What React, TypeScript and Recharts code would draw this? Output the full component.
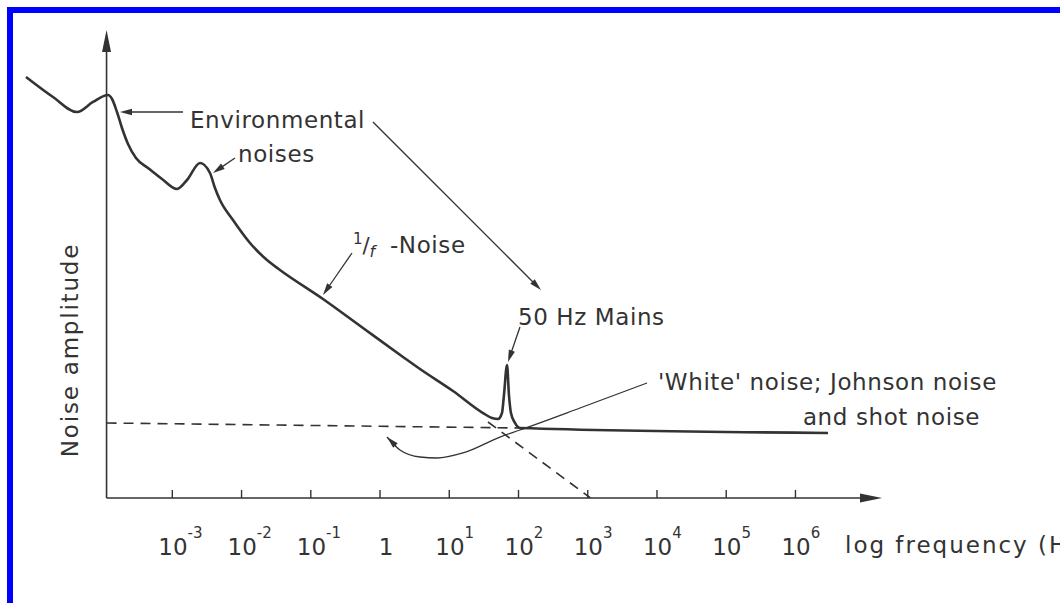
import { LineChart, Line, XAxis, YAxis, ReferenceLine, ReferenceDot } from "recharts";

const ink = "#333";
const font = "'DejaVu Sans', sans-serif";

// x = log10(frequency in Hz), y = noise amplitude (arbitrary units, 0..100)
const xDomain = [-5.2, 7.25];
const yDomain = [0, 100];
const yAxisAt = -3.95;
const decades = [-3, -2, -1, 0, 1, 2, 3, 4, 5, 6];

const noiseCurve = [
  { x: -5.113, y: 89.96 },
  { x: -4.723, y: 85.68 },
  { x: -4.377, y: 82.48 },
  { x: -4.146, y: 84.62 },
  { x: -3.929, y: 86.11 },
  { x: -3.871, y: 85.26 },
  { x: -3.799, y: 82.48 },
  { x: -3.727, y: 79.06 },
  { x: -3.64, y: 75.64 },
  { x: -3.525, y: 72.65 },
  { x: -3.351, y: 70.51 },
  { x: -3.149, y: 68.16 },
  { x: -2.933, y: 66.03 },
  { x: -2.788, y: 67.95 },
  { x: -2.6, y: 71.58 },
  { x: -2.456, y: 69.44 },
  { x: -2.384, y: 66.24 },
  { x: -2.312, y: 63.68 },
  { x: -2.124, y: 59.4 },
  { x: -1.878, y: 54.49 },
  { x: -1.633, y: 50.85 },
  { x: -1.445, y: 48.72 },
  { x: -0.824, y: 42.52 },
  { x: -0.246, y: 36.32 },
  { x: 0.332, y: 30.13 },
  { x: 0.577, y: 27.56 },
  { x: 1.054, y: 22.86 },
  { x: 1.487, y: 18.16 },
  { x: 1.617, y: 17.09 },
  { x: 1.704, y: 16.88 },
  { x: 1.761, y: 18.16 },
  { x: 1.79, y: 22.01 },
  { x: 1.834, y: 28.42 },
  { x: 1.862, y: 22.01 },
  { x: 1.891, y: 18.16 },
  { x: 1.949, y: 16.03 },
  { x: 2.021, y: 14.96 },
  { x: 6.47, y: 13.89 },
];

// extrapolated white-noise level and 1/f slope (dashed)
const whiteLevel = [
  { x: -3.95, y: 16.03 },
  { x: 2.021, y: 14.96 },
];
const flickerSlope = [
  { x: 1.559, y: 16.24 },
  { x: 3.04, y: 0 },
];

// curved leader from the white-noise caption to the dashed level
const whiteLeader = [
  { x: 0.1, y: 13.03 },
  { x: 0.288, y: 10.26 },
  { x: 0.577, y: 8.76 },
  { x: 0.823, y: 8.55 },
  { x: 1.198, y: 9.62 },
  { x: 1.732, y: 13.03 },
  { x: 2.021, y: 14.53 },
  { x: 2.888, y: 19.23 },
  { x: 3.856, y: 24.57 },
];

const arrows = [
  { from: { x: -2.846, y: 82.48 }, to: { x: -3.756, y: 82.48 } },
  { from: { x: -2.095, y: 72.65 }, to: { x: -2.413, y: 69.44 } },
  { from: { x: -0.102, y: 80.34 }, to: { x: 2.325, y: 44.44 } },
  { from: { x: -0.405, y: 52.35 }, to: { x: -0.824, y: 43.38 } },
  { from: { x: 2.021, y: 36.54 }, to: { x: 1.848, y: 29.06 } },
  { from: { x: 0.23, y: 11.11 }, to: { x: 0.1, y: 13.03 } },
];

const captions = [
  { x: -2.745, y: 79.06, text: "Environmental" },
  { x: -2.052, y: 71.79, text: "noises" },
  { x: 1.992, y: 36.97, text: "50 Hz Mains" },
  { x: 4.014, y: 23.08, text: "'White' noise; Johnson noise" },
  { x: 6.108, y: 15.6, text: "and shot noise" },
];

function arrowShape(len: number, half: number, width: number) {
  return (p: any) => {
    const { x1, y1, x2, y2 } = p;
    const d = Math.hypot(x2 - x1, y2 - y1) || 1;
    const ux = (x2 - x1) / d;
    const uy = (y2 - y1) / d;
    const bx = x2 - ux * len;
    const by = y2 - uy * len;
    const pts = `${x2},${y2} ${bx - uy * half},${by + ux * half} ${bx + uy * half},${by - ux * half}`;
    return (
      <g>
        <line x1={x1} y1={y1} x2={bx + ux * 2} y2={by + uy * 2} stroke={ink} strokeWidth={width} />
        <polygon points={pts} fill={ink} />
      </g>
    );
  };
}

function DecadeTick({ x, y, payload }: any) {
  const e = payload.value;
  return (
    <g fill={ink} fontFamily={font}>
      <line x1={x} y1={y - 8} x2={x} y2={y} stroke={ink} strokeWidth={1.4} />
      {e === 0 ? (
        <text x={x + 6} y={y + 57} textAnchor="middle" fontSize={23}>
          1
        </text>
      ) : (
        <text x={x - 14} y={y + 57} fontSize={23}>
          10
          <tspan dy={-17} fontSize={15}>
            {e}
          </tspan>
        </text>
      )}
    </g>
  );
}

function FreqLabel({ viewBox }: any) {
  return (
    <text
      x={viewBox.x + viewBox.width - 37}
      y={viewBox.y + 55}
      fill={ink}
      fontFamily={font}
      fontSize={23}
      letterSpacing={2}
    >
      log frequency (Hz)
    </text>
  );
}

const captionShape = (text: string) => (p: any) =>
  (
    <text x={p.cx} y={p.cy} fill={ink} fontFamily={font} fontSize={23} letterSpacing={0.6}>
      {text}
    </text>
  );

const oneOverFShape = (p: any) => (
  <g fill={ink} fontFamily={font}>
    <text x={p.cx + 3} y={p.cy}>
      <tspan fontSize={15} dy={-9}>1</tspan>
      <tspan fontSize={21} dy={9}>/</tspan>
      <tspan fontSize={16} fontStyle="italic" dy={4}>f</tspan>
    </text>
    <text x={p.cx + 40} y={p.cy} fontSize={23} letterSpacing={0.6}>-Noise</text>
  </g>
);

const yTitleShape = (p: any) => (
  <text
    x={p.cx}
    y={p.cy}
    transform={`rotate(-90 ${p.cx} ${p.cy})`}
    textAnchor="middle"
    fill={ink}
    fontFamily={font}
    fontSize={23}
    letterSpacing={1.8}
  >
    Noise amplitude
  </text>
);

export default function App() {
  return (
    <div
      style={{
        position: "fixed",
        left: 0,
        top: 0,
        width: 1060,
        height: 603,
        overflow: "hidden",
        background: "#fff",
      }}
    >
      <div
        style={{
          position: "absolute",
          left: 7,
          top: 7,
          width: 1100,
          height: 700,
          borderTop: "6px solid #0000ff",
          borderLeft: "6px solid #0000ff",
        }}
      />
      <div style={{ position: "absolute", left: 0, top: 0 }}>
        <LineChart width={1060} height={603} margin={{ top: 30, right: 178, bottom: 45, left: 20 }}>
          <XAxis
            type="number"
            dataKey="x"
            domain={xDomain}
            ticks={decades}
            allowDataOverflow
            axisLine={false}
            tickLine={false}
            tickSize={0}
            tickMargin={0}
            height={60}
            interval={0}
            tick={<DecadeTick />}
            label={<FreqLabel />}
          />
          <YAxis type="number" dataKey="y" domain={yDomain} allowDataOverflow hide />

          <ReferenceLine
            segment={[{ x: yAxisAt, y: 0 }, { x: yAxisAt, y: 100 }]}
            shape={arrowShape(22, 4.5, 1.6)}
          />
          <ReferenceLine
            segment={[{ x: yAxisAt, y: 0 }, { x: xDomain[1], y: 0 }]}
            shape={arrowShape(22, 4.5, 1.6)}
          />

          <Line
            data={whiteLevel}
            dataKey="y"
            type="linear"
            stroke={ink}
            strokeWidth={1.6}
            strokeDasharray="10 7"
            dot={false}
            isAnimationActive={false}
          />
          <Line
            data={flickerSlope}
            dataKey="y"
            type="linear"
            stroke={ink}
            strokeWidth={1.6}
            strokeDasharray="10 7"
            dot={false}
            isAnimationActive={false}
          />
          <Line
            data={whiteLeader}
            dataKey="y"
            type="monotone"
            stroke={ink}
            strokeWidth={1.3}
            dot={false}
            isAnimationActive={false}
          />
          <Line
            data={noiseCurve}
            dataKey="y"
            type="monotone"
            stroke={ink}
            strokeWidth={2.6}
            dot={false}
            isAnimationActive={false}
          />

          {arrows.map((a, i) => (
            <ReferenceLine key={`a${i}`} segment={[a.from, a.to]} shape={arrowShape(12, 3.2, 1.3)} />
          ))}
          {captions.map((c) => (
            <ReferenceDot key={c.text} x={c.x} y={c.y} r={0} shape={captionShape(c.text)} />
          ))}
          <ReferenceDot x={-0.434} y={52.35} r={0} shape={oneOverFShape} />
          <ReferenceDot x={-4.362} y={31.62} r={0} shape={yTitleShape} />
        </LineChart>
      </div>
    </div>
  );
}
